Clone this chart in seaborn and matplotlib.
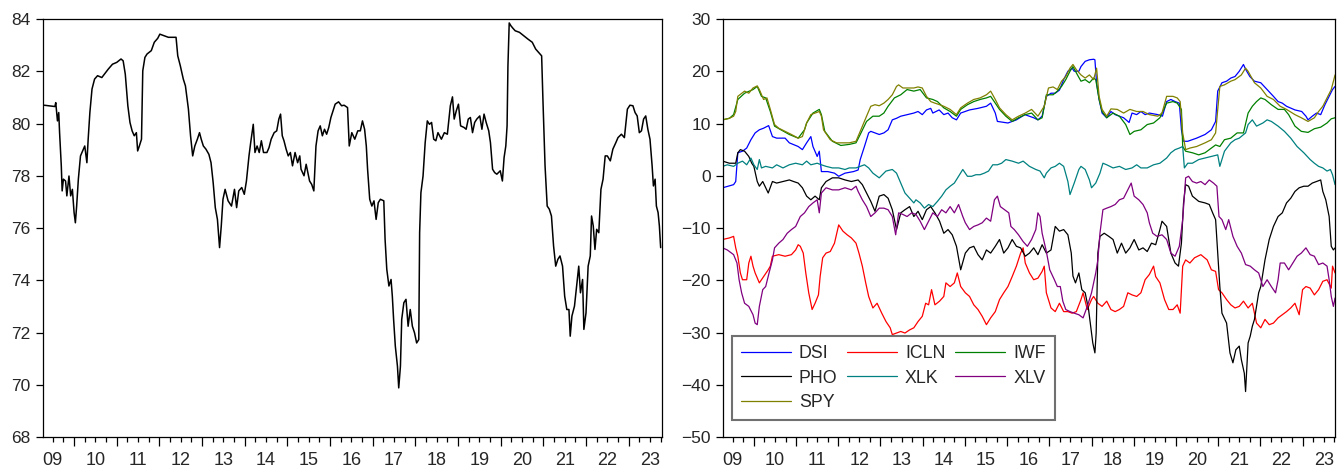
import numpy as np
import pandas as pd
import seaborn as sns
import matplotlib.pyplot as plt
from matplotlib.ticker import NullFormatter

#----------------------------------
# Data (decimal years)
#----------------------------------

left_t = [2009.30, 2009.55, 2009.57, 2009.61, 2009.64, 2009.66, 2009.70, 2009.72, 2009.75, 2009.80,
          2009.83, 2009.88, 2009.92, 2009.96, 2010.00, 2010.03, 2010.06, 2010.10, 2010.15, 2010.20,
          2010.25, 2010.30, 2010.33, 2010.37, 2010.42, 2010.48, 2010.55, 2010.65, 2010.80, 2010.90,
          2011.00, 2011.10, 2011.15, 2011.20, 2011.26, 2011.31, 2011.36, 2011.41, 2011.46, 2011.49,
          2011.53, 2011.58, 2011.61, 2011.66, 2011.71, 2011.81, 2011.88, 2011.96, 2012.01, 2012.11,
          2012.21, 2012.39, 2012.43, 2012.49, 2012.56, 2012.61, 2012.68, 2012.73, 2012.78, 2012.83,
          2012.89, 2012.94, 2012.98, 2013.03, 2013.09, 2013.16, 2013.21, 2013.26, 2013.31, 2013.36,
          2013.41, 2013.45, 2013.49, 2013.54, 2013.61, 2013.69, 2013.76, 2013.81, 2013.86, 2013.93,
          2013.99, 2014.04, 2014.10, 2014.14, 2014.20, 2014.24, 2014.29, 2014.34, 2014.39, 2014.44,
          2014.52, 2014.57, 2014.62, 2014.69, 2014.75, 2014.80, 2014.84, 2014.88, 2014.92, 2014.97,
          2015.02, 2015.07, 2015.12, 2015.18, 2015.24, 2015.29, 2015.32, 2015.39, 2015.44, 2015.52,
          2015.57, 2015.62, 2015.67, 2015.72, 2015.77, 2015.82, 2015.87, 2015.92, 2015.97, 2016.02,
          2016.07, 2016.12, 2016.20, 2016.27, 2016.33, 2016.41, 2016.45, 2016.51, 2016.58, 2016.65,
          2016.71, 2016.76, 2016.81, 2016.85, 2016.88, 2016.93, 2016.98, 2017.03, 2017.08, 2017.13,
          2017.18, 2017.26, 2017.29, 2017.33, 2017.38, 2017.43, 2017.46, 2017.49, 2017.53, 2017.58,
          2017.61, 2017.65, 2017.68, 2017.73, 2017.78, 2017.83, 2017.88, 2017.93, 2017.98, 2018.03,
          2018.08, 2018.10, 2018.13, 2018.18, 2018.23, 2018.28, 2018.33, 2018.38, 2018.43, 2018.48,
          2018.53, 2018.61, 2018.68, 2018.75, 2018.82, 2018.87, 2018.91, 2018.96, 2019.01, 2019.06,
          2019.14, 2019.19, 2019.24, 2019.29, 2019.34, 2019.39, 2019.44, 2019.51, 2019.56, 2019.61,
          2019.66, 2019.72, 2019.76, 2019.81, 2019.86, 2019.91, 2019.99, 2020.04, 2020.08, 2020.12,
          2020.15, 2020.17, 2020.20, 2020.24, 2020.29, 2020.34, 2020.44, 2020.54, 2020.64, 2020.74,
          2020.82, 2020.89, 2020.96, 2020.99, 2021.04, 2021.09, 2021.14, 2021.19, 2021.24, 2021.29,
          2021.34, 2021.39, 2021.45, 2021.50, 2021.55, 2021.60, 2021.63, 2021.67, 2021.73, 2021.78,
          2021.83, 2021.87, 2021.92, 2021.95, 2022.00, 2022.05, 2022.10, 2022.13, 2022.17, 2022.21,
          2022.25, 2022.30, 2022.35, 2022.40, 2022.45, 2022.50, 2022.57, 2022.63, 2022.70, 2022.75,
          2022.83, 2022.90, 2022.97, 2023.03, 2023.10, 2023.15, 2023.20, 2023.25, 2023.30, 2023.35,
          2023.40, 2023.45, 2023.50, 2023.55, 2023.58, 2023.62, 2023.65, 2023.69, 2023.72, 2023.75]
left_v = [80.70, 80.65, 80.80, 80.10, 80.42, 79.65, 78.38, 77.42, 77.87, 77.80,
          77.23, 77.99, 77.23, 77.48, 76.59, 76.20, 76.84, 77.87, 78.76, 78.95,
          79.14, 78.50, 79.40, 80.42, 81.32, 81.70, 81.83, 81.76, 82.08, 82.27,
          82.34, 82.47, 82.40, 81.89, 80.68, 80.04, 79.72, 79.53, 79.65, 78.95,
          79.14, 79.40, 82.02, 82.53, 82.66, 82.79, 83.11, 83.26, 83.42, 83.36,
          83.30, 83.30, 82.59, 82.21, 81.70, 81.44, 80.55, 79.53, 78.76, 79.14,
          79.40, 79.65, 79.40, 79.14, 79.02, 78.82, 78.50, 77.74, 76.78, 76.33,
          75.25, 76.08, 77.10, 77.48, 77.04, 76.84, 77.48, 76.78, 77.42, 77.55,
          77.29, 77.80, 78.76, 79.27, 79.97, 78.89, 79.14, 78.89, 79.34, 78.89,
          78.89, 79.08, 79.40, 79.65, 79.72, 80.17, 80.36, 79.53, 79.34, 79.02,
          78.76, 78.89, 78.38, 78.89, 78.50, 78.76, 78.25, 78.00, 78.44, 77.80,
          77.67, 77.42, 79.14, 79.72, 79.91, 79.53, 79.78, 79.59, 79.85, 80.23,
          80.49, 80.74, 80.83, 80.68, 80.70, 80.61, 79.14, 79.65, 79.40, 79.72,
          79.72, 80.10, 79.78, 79.14, 78.25, 77.10, 76.84, 77.04, 76.33, 76.97,
          77.10, 77.04, 75.57, 74.42, 73.78, 74.03, 73.39, 72.50, 71.48, 70.71,
          69.88, 70.71, 72.50, 73.14, 73.27, 72.24, 72.88, 72.24, 71.99, 71.60,
          71.73, 75.82, 77.35, 77.99, 79.27, 80.10, 79.97, 80.04, 79.40, 79.34,
          79.65, 79.40, 79.65, 79.59, 80.68, 81.02, 80.17, 80.49, 80.74, 79.91,
          79.85, 79.78, 80.17, 80.23, 79.65, 80.04, 80.17, 80.29, 79.78, 80.36,
          80.04, 79.72, 79.27, 78.25, 78.12, 78.06, 78.19, 77.80, 78.70, 79.14,
          79.91, 82.21, 83.85, 83.74, 83.64, 83.55, 83.49, 83.36, 83.23, 83.11,
          82.85, 82.72, 82.59, 80.93, 78.38, 76.84, 76.72, 76.46, 75.31, 74.54,
          74.80, 74.93, 74.54, 73.39, 72.88, 72.88, 71.86, 72.63, 73.01, 73.78,
          74.54, 73.52, 74.03, 72.12, 72.75, 74.54, 74.93, 76.46, 76.08, 75.18,
          75.95, 75.82, 77.48, 77.87, 78.76, 78.76, 78.57, 79.02, 79.27, 79.46,
          79.59, 79.46, 80.55, 80.70, 80.68, 80.42, 80.29, 79.65, 79.72, 80.17,
          80.29, 79.78, 79.40, 78.38, 77.61, 77.87, 76.84, 76.59, 76.08, 75.25]

dsi_t = [2009.26, 2009.52, 2009.57, 2009.62, 2009.73, 2009.83, 2009.93, 2010.03, 2010.13, 2010.23,
         2010.35, 2010.44, 2010.54, 2010.74, 2010.84, 2011.05, 2011.15, 2011.25, 2011.35, 2011.40,
         2011.50, 2011.55, 2011.60, 2011.75, 2011.91, 2012.01, 2012.16, 2012.36, 2012.47, 2012.52,
         2012.62, 2012.72, 2012.77, 2012.87, 2012.97, 2013.08, 2013.18, 2013.28, 2013.38, 2013.48,
         2013.64, 2013.79, 2013.89, 2013.99, 2014.09, 2014.19, 2014.24, 2014.39, 2014.50, 2014.60,
         2014.70, 2014.80, 2014.90, 2015.11, 2015.31, 2015.51, 2015.61, 2015.72, 2015.77, 2016.02,
         2016.22, 2016.42, 2016.63, 2016.73, 2016.83, 2016.93, 2017.04, 2017.14, 2017.24, 2017.34,
         2017.44, 2017.54, 2017.59, 2017.70, 2017.75, 2017.85, 2017.95, 2018.05, 2018.08, 2018.12,
         2018.18, 2018.25, 2018.36, 2018.46, 2018.56, 2018.66, 2018.76, 2018.89, 2018.96, 2019.07,
         2019.17, 2019.27, 2019.37, 2019.57, 2019.68, 2019.78, 2019.88, 2019.98, 2020.08, 2020.13,
         2020.18, 2020.28, 2020.49, 2020.69, 2020.84, 2020.94, 2020.99, 2021.09, 2021.20, 2021.30,
         2021.40, 2021.50, 2021.60, 2021.65, 2021.75, 2021.86, 2022.01, 2022.16, 2022.31, 2022.42,
         2022.52, 2022.62, 2022.82, 2022.98, 2023.08, 2023.13, 2023.23, 2023.33, 2023.43, 2023.53,
         2023.63, 2023.71, 2023.77]
dsi_v = [-2.3, -1.7, -1.1, 4.4, 4.7, 5.3, 6.9, 8.2, 8.8, 9.1,
         9.6, 7.5, 7.2, 7.2, 6.3, 5.6, 5.0, 6.3, 7.5, 5.6,
         3.7, 4.7, 0.8, 0.8, 0.5, -0.1, 0.5, 0.8, 1.1, 3.1,
         5.6, 8.2, 8.5, 8.2, 7.9, 8.2, 8.8, 10.7, 11.0, 11.4,
         11.7, 12.0, 12.3, 11.7, 12.6, 12.9, 12.0, 12.6, 11.7, 12.0,
         11.1, 10.7, 12.0, 12.6, 12.9, 13.3, 13.9, 12.0, 10.4, 10.1,
         10.7, 11.7, 11.1, 10.7, 11.4, 15.2, 15.8, 15.8, 16.4, 18.4,
         20.0, 20.6, 20.0, 20.0, 20.9, 21.9, 22.2, 22.3, 22.2, 17.8,
         14.6, 12.0, 11.1, 12.3, 11.7, 11.4, 11.1, 10.2, 12.0, 11.7,
         12.3, 11.7, 12.0, 11.7, 11.4, 14.2, 14.6, 14.2, 13.9, 8.8,
         6.6, 6.6, 7.2, 7.9, 8.8, 10.4, 16.2, 17.8, 18.1, 18.7,
         19.0, 20.0, 21.3, 20.4, 19.0, 18.1, 17.8, 16.5, 15.2, 14.2,
         13.9, 13.3, 12.6, 12.3, 11.4, 10.7, 11.4, 12.0, 11.7, 13.6,
         15.2, 16.5, 17.1]

icln_t = [2009.26, 2009.42, 2009.52, 2009.57, 2009.62, 2009.68, 2009.73, 2009.83, 2009.88, 2009.93,
          2009.98, 2010.03, 2010.13, 2010.23, 2010.34, 2010.39, 2010.44, 2010.59, 2010.74, 2010.89,
          2010.99, 2011.05, 2011.10, 2011.17, 2011.23, 2011.30, 2011.38, 2011.45, 2011.53, 2011.57,
          2011.63, 2011.71, 2011.81, 2011.91, 2012.01, 2012.11, 2012.21, 2012.31, 2012.42, 2012.49,
          2012.57, 2012.65, 2012.72, 2012.82, 2012.92, 2013.03, 2013.13, 2013.23, 2013.28, 2013.38,
          2013.48, 2013.58, 2013.69, 2013.79, 2013.89, 2013.99, 2014.07, 2014.14, 2014.21, 2014.29,
          2014.40, 2014.50, 2014.55, 2014.65, 2014.75, 2014.82, 2014.90, 2015.01, 2015.11, 2015.21,
          2015.31, 2015.41, 2015.51, 2015.61, 2015.72, 2015.82, 2015.92, 2016.02, 2016.12, 2016.22,
          2016.32, 2016.38, 2016.43, 2016.53, 2016.63, 2016.73, 2016.83, 2016.88, 2016.93, 2017.04,
          2017.14, 2017.24, 2017.34, 2017.44, 2017.54, 2017.64, 2017.75, 2017.80, 2017.90, 2018.00,
          2018.05, 2018.15, 2018.25, 2018.36, 2018.46, 2018.56, 2018.66, 2018.76, 2018.86, 2018.96,
          2019.07, 2019.17, 2019.27, 2019.37, 2019.47, 2019.52, 2019.62, 2019.73, 2019.83, 2019.93,
          2020.03, 2020.10, 2020.16, 2020.23, 2020.33, 2020.44, 2020.59, 2020.74, 2020.84, 2020.94,
          2021.01, 2021.09, 2021.20, 2021.30, 2021.40, 2021.50, 2021.60, 2021.71, 2021.81, 2021.91,
          2022.01, 2022.11, 2022.21, 2022.31, 2022.42, 2022.52, 2022.62, 2022.72, 2022.82, 2022.92,
          2023.00, 2023.08, 2023.18, 2023.28, 2023.38, 2023.48, 2023.58, 2023.68, 2023.71, 2023.77]
icln_v = [-12.2, -11.9, -11.6, -13.8, -15.4, -18.6, -19.9, -19.9, -16.7, -15.4,
          -17.3, -18.6, -20.5, -19.3, -18.0, -17.3, -15.4, -15.1, -15.4, -15.1,
          -14.2, -13.2, -13.5, -14.8, -18.6, -22.4, -25.6, -24.4, -22.8, -19.3,
          -15.7, -14.8, -14.5, -12.9, -9.4, -10.6, -11.3, -11.9, -12.9, -14.8,
          -17.3, -20.5, -23.1, -25.3, -24.4, -26.3, -27.9, -29.1, -30.4, -30.1,
          -29.8, -30.1, -29.5, -29.1, -27.9, -26.9, -24.4, -24.7, -21.8, -24.7,
          -24.0, -23.1, -20.5, -21.2, -20.5, -18.6, -21.2, -22.4, -23.1, -24.7,
          -25.6, -26.9, -28.5, -27.2, -26.0, -23.7, -22.4, -21.2, -19.3, -17.3,
          -14.8, -13.8, -16.7, -18.6, -19.9, -19.6, -18.3, -17.3, -22.4, -25.3,
          -26.0, -24.4, -26.0, -26.0, -26.3, -26.0, -23.7, -22.4, -25.6, -23.7,
          -23.1, -24.4, -25.0, -24.0, -25.6, -26.0, -25.6, -25.0, -22.4, -22.8,
          -23.1, -22.4, -19.9, -18.9, -17.3, -19.3, -20.5, -23.7, -25.6, -25.6,
          -24.7, -26.3, -17.3, -16.1, -16.7, -15.7, -15.1, -16.1, -18.0, -18.3,
          -21.8, -22.4, -23.7, -24.7, -25.3, -25.0, -24.0, -25.3, -24.4, -28.2,
          -29.1, -27.5, -28.5, -28.2, -27.2, -26.6, -26.0, -25.3, -24.4, -26.6,
          -21.8, -21.2, -21.5, -22.8, -21.8, -20.2, -19.9, -21.5, -17.3, -18.6]

iwf_t = [2009.26, 2009.42, 2009.52, 2009.62, 2009.78, 2009.98, 2010.08, 2010.18, 2010.28, 2010.39,
         2010.49, 2010.64, 2010.84, 2011.05, 2011.20, 2011.25, 2011.40, 2011.55, 2011.60, 2011.68,
         2011.86, 2012.06, 2012.26, 2012.42, 2012.52, 2012.67, 2012.82, 2012.97, 2013.08, 2013.18,
         2013.33, 2013.48, 2013.63, 2013.79, 2013.94, 2014.09, 2014.24, 2014.35, 2014.50, 2014.65,
         2014.80, 2014.90, 2015.06, 2015.21, 2015.36, 2015.51, 2015.61, 2015.72, 2015.82, 2015.97,
         2016.12, 2016.27, 2016.43, 2016.58, 2016.73, 2016.83, 2016.93, 2017.09, 2017.19, 2017.29,
         2017.39, 2017.49, 2017.56, 2017.64, 2017.75, 2017.85, 2017.95, 2018.05, 2018.10, 2018.18,
         2018.25, 2018.36, 2018.51, 2018.66, 2018.81, 2018.91, 2019.01, 2019.17, 2019.32, 2019.47,
         2019.62, 2019.78, 2019.93, 2020.03, 2020.13, 2020.16, 2020.23, 2020.39, 2020.54, 2020.69,
         2020.84, 2020.94, 2021.04, 2021.15, 2021.30, 2021.45, 2021.60, 2021.71, 2021.81, 2021.91,
         2022.01, 2022.11, 2022.26, 2022.42, 2022.57, 2022.67, 2022.82, 2022.97, 2023.13, 2023.28,
         2023.43, 2023.58, 2023.68, 2023.77]
iwf_v = [10.7, 11.0, 11.7, 14.6, 15.8, 16.5, 17.1, 15.2, 14.9, 12.3,
         9.5, 8.8, 7.9, 7.2, 8.8, 10.1, 12.0, 12.7, 11.7, 8.5,
         6.6, 5.8, 6.0, 6.3, 7.9, 10.4, 11.4, 11.4, 12.0, 13.3,
         14.9, 15.5, 16.5, 16.2, 16.5, 14.9, 14.6, 14.2, 13.0, 12.3,
         11.4, 12.7, 13.6, 14.2, 14.6, 14.9, 15.2, 13.9, 12.7, 11.4,
         10.4, 11.1, 11.7, 12.0, 10.7, 11.1, 15.5, 15.5, 16.2, 17.1,
         18.4, 20.0, 20.9, 19.7, 18.1, 18.4, 17.8, 18.7, 18.4, 14.6,
         12.3, 11.1, 12.0, 11.4, 9.8, 7.9, 8.5, 8.8, 9.8, 10.1,
         11.1, 13.9, 14.2, 13.9, 12.7, 5.6, 4.7, 4.4, 4.0, 4.4,
         5.3, 5.9, 5.6, 6.9, 7.2, 8.2, 8.2, 12.0, 13.3, 14.2,
         14.9, 14.6, 13.6, 12.7, 12.7, 11.7, 9.5, 8.5, 8.3, 9.0,
         9.3, 10.1, 10.9, 11.1]

pho_t = [2009.26, 2009.42, 2009.57, 2009.62, 2009.68, 2009.78, 2009.88, 2009.95, 2010.00, 2010.08,
         2010.13, 2010.21, 2010.34, 2010.44, 2010.54, 2010.69, 2010.84, 2010.94, 2011.05, 2011.15,
         2011.25, 2011.35, 2011.45, 2011.55, 2011.60, 2011.71, 2011.86, 2012.01, 2012.16, 2012.31,
         2012.47, 2012.57, 2012.67, 2012.77, 2012.87, 2012.97, 2013.08, 2013.18, 2013.28, 2013.38,
         2013.48, 2013.58, 2013.69, 2013.79, 2013.89, 2013.99, 2014.09, 2014.19, 2014.29, 2014.40,
         2014.50, 2014.60, 2014.70, 2014.80, 2014.90, 2015.01, 2015.11, 2015.21, 2015.31, 2015.41,
         2015.51, 2015.61, 2015.72, 2015.82, 2015.92, 2016.02, 2016.12, 2016.22, 2016.32, 2016.43,
         2016.53, 2016.63, 2016.73, 2016.83, 2016.93, 2017.04, 2017.14, 2017.24, 2017.34, 2017.44,
         2017.52, 2017.56, 2017.62, 2017.70, 2017.77, 2017.85, 2017.93, 2017.98, 2018.03, 2018.08,
         2018.11, 2018.15, 2018.20, 2018.30, 2018.41, 2018.51, 2018.61, 2018.71, 2018.81, 2018.91,
         2019.01, 2019.12, 2019.22, 2019.32, 2019.42, 2019.52, 2019.62, 2019.67, 2019.78, 2019.88,
         2019.98, 2020.06, 2020.13, 2020.18, 2020.23, 2020.30, 2020.39, 2020.54, 2020.69, 2020.79,
         2020.87, 2020.94, 2020.99, 2021.04, 2021.09, 2021.20, 2021.28, 2021.35, 2021.42, 2021.50,
         2021.55, 2021.62, 2021.65, 2021.71, 2021.76, 2021.81, 2021.86, 2021.91, 2021.96, 2022.01,
         2022.11, 2022.21, 2022.31, 2022.42, 2022.52, 2022.62, 2022.72, 2022.82, 2022.92, 2023.03,
         2023.13, 2023.23, 2023.33, 2023.43, 2023.48, 2023.55, 2023.63, 2023.68, 2023.73, 2023.77]
pho_v = [2.8, 2.4, 2.4, 4.4, 5.0, 4.7, 3.7, 2.4, 1.8, -1.1,
         -2.0, -1.1, -3.3, -1.1, -1.4, -1.1, -0.8, -1.1, -1.4, -2.3,
         -3.9, -4.6, -3.9, -4.6, -2.3, -1.1, -0.4, -0.4, -0.8, -1.1,
         -0.8, -1.7, -3.3, -4.9, -6.8, -3.9, -3.6, -4.3, -6.5, -10.3,
         -7.1, -6.5, -5.9, -7.8, -6.8, -8.4, -6.5, -5.9, -7.1, -8.7,
         -11.0, -10.3, -11.3, -13.5, -18.0, -14.8, -13.8, -13.5, -15.1, -16.1,
         -14.2, -14.8, -13.5, -12.2, -14.8, -13.8, -12.2, -13.5, -13.8, -15.4,
         -14.8, -13.8, -15.1, -13.2, -14.8, -14.2, -9.7, -10.6, -10.3, -11.3,
         -14.8, -19.2, -20.5, -18.6, -21.8, -22.4, -25.6, -28.8, -32.0, -33.9,
         -30.1, -14.8, -11.6, -11.0, -11.6, -12.2, -14.8, -12.9, -14.8, -13.8,
         -12.2, -14.2, -13.8, -14.5, -12.9, -13.2, -10.3, -8.7, -9.7, -14.8,
         -16.7, -17.3, -12.9, -5.2, -1.7, -2.0, -3.9, -4.9, -5.2, -5.5,
         -7.1, -8.4, -14.8, -21.2, -26.3, -28.2, -33.9, -35.8, -33.3, -32.6,
         -35.2, -37.8, -41.3, -32.0, -30.7, -28.8, -27.5, -25.0, -22.4, -21.2,
         -16.1, -12.2, -9.7, -7.8, -7.1, -5.2, -4.3, -3.0, -2.3, -2.0,
         -2.0, -1.4, -1.1, -0.8, -3.0, -4.6, -7.8, -13.5, -14.2, -13.8]

xlk_t = [2009.26, 2009.37, 2009.52, 2009.62, 2009.73, 2009.83, 2009.93, 2010.00, 2010.08, 2010.13,
         2010.18, 2010.28, 2010.44, 2010.54, 2010.69, 2010.84, 2010.99, 2011.15, 2011.25, 2011.35,
         2011.50, 2011.60, 2011.71, 2011.86, 2012.01, 2012.16, 2012.26, 2012.42, 2012.52, 2012.62,
         2012.72, 2012.82, 2012.97, 2013.13, 2013.28, 2013.38, 2013.48, 2013.58, 2013.69, 2013.79,
         2013.84, 2013.94, 2014.04, 2014.14, 2014.24, 2014.35, 2014.45, 2014.55, 2014.65, 2014.75,
         2014.85, 2014.95, 2015.06, 2015.16, 2015.26, 2015.36, 2015.46, 2015.56, 2015.66, 2015.77,
         2015.87, 2015.97, 2016.12, 2016.27, 2016.38, 2016.53, 2016.68, 2016.78, 2016.88, 2016.93,
         2017.04, 2017.14, 2017.24, 2017.34, 2017.44, 2017.49, 2017.59, 2017.70, 2017.75, 2017.85,
         2017.95, 2018.00, 2018.10, 2018.20, 2018.27, 2018.36, 2018.51, 2018.66, 2018.81, 2018.96,
         2019.07, 2019.17, 2019.32, 2019.47, 2019.62, 2019.78, 2019.88, 2019.98, 2020.08, 2020.16,
         2020.20, 2020.28, 2020.39, 2020.54, 2020.69, 2020.84, 2020.99, 2021.04, 2021.15, 2021.30,
         2021.40, 2021.50, 2021.65, 2021.71, 2021.81, 2021.91, 2022.06, 2022.16, 2022.26, 2022.42,
         2022.57, 2022.72, 2022.87, 2023.03, 2023.18, 2023.28, 2023.38, 2023.48, 2023.58, 2023.66,
         2023.71, 2023.77]
xlk_v = [1.8, 2.1, 1.8, 2.4, 2.8, 2.1, 3.4, 2.1, 1.2, 3.1,
         1.5, 1.8, 1.5, 2.1, 1.5, 2.1, 2.4, 2.1, 2.8, 2.1,
         2.4, 2.1, 1.8, 1.5, 1.5, 1.2, 1.5, 1.5, 1.8, 2.1,
         1.5, 0.5, -0.4, 0.9, 1.2, 0.5, -1.4, -3.3, -4.3, -5.2,
         -4.6, -5.2, -6.2, -5.5, -5.9, -4.9, -3.9, -2.7, -2.0, -1.4,
         -0.1, 1.2, -0.1, -0.1, 0.2, 0.2, 0.5, 0.9, 2.1, 2.1,
         2.4, 3.1, 2.8, 2.4, 2.8, 1.8, 1.2, 0.9, -0.4, 0.5,
         1.5, 1.8, 2.4, 1.8, -1.1, -3.6, -1.4, 1.2, 1.8, 1.2,
         -0.8, -2.3, -1.4, 0.5, 2.4, 2.1, 1.5, 1.8, 1.2, 1.5,
         2.1, 1.5, 1.5, 2.1, 2.4, 3.4, 4.4, 5.0, 5.3, 5.6,
         1.5, 2.4, 2.4, 3.1, 3.4, 3.7, 4.0, 1.8, 4.7, 6.3,
         6.9, 7.2, 8.2, 9.8, 10.7, 9.5, 10.1, 10.7, 10.4, 9.5,
         8.5, 7.2, 5.6, 4.4, 3.1, 2.4, 1.8, 1.5, 0.9, 1.2,
         0.2, -1.7]

xlv_t = [2009.26, 2009.37, 2009.52, 2009.60, 2009.65, 2009.71, 2009.78, 2009.88, 2009.98, 2010.03,
         2010.08, 2010.13, 2010.21, 2010.28, 2010.36, 2010.44, 2010.49, 2010.59, 2010.69, 2010.79,
         2010.89, 2010.99, 2011.10, 2011.20, 2011.30, 2011.40, 2011.50, 2011.55, 2011.60, 2011.71,
         2011.86, 2012.01, 2012.16, 2012.31, 2012.42, 2012.47, 2012.57, 2012.67, 2012.77, 2012.87,
         2012.97, 2013.08, 2013.18, 2013.28, 2013.36, 2013.43, 2013.53, 2013.63, 2013.74, 2013.84,
         2013.94, 2014.04, 2014.14, 2014.24, 2014.35, 2014.45, 2014.55, 2014.65, 2014.75, 2014.85,
         2014.95, 2015.01, 2015.11, 2015.21, 2015.31, 2015.41, 2015.51, 2015.61, 2015.70, 2015.77,
         2015.84, 2015.94, 2016.04, 2016.09, 2016.17, 2016.27, 2016.38, 2016.48, 2016.58, 2016.68,
         2016.73, 2016.78, 2016.83, 2016.93, 2017.01, 2017.12, 2017.19, 2017.26, 2017.32, 2017.39,
         2017.49, 2017.59, 2017.70, 2017.80, 2017.90, 2018.00, 2018.05, 2018.10, 2018.15, 2018.20,
         2018.27, 2018.36, 2018.46, 2018.56, 2018.66, 2018.76, 2018.86, 2018.94, 2019.01, 2019.12,
         2019.22, 2019.32, 2019.37, 2019.45, 2019.55, 2019.67, 2019.78, 2019.88, 2019.98, 2020.08,
         2020.16, 2020.23, 2020.30, 2020.39, 2020.49, 2020.59, 2020.69, 2020.79, 2020.89, 2020.97,
         2021.02, 2021.09, 2021.18, 2021.25, 2021.35, 2021.45, 2021.55, 2021.65, 2021.76, 2021.86,
         2021.96, 2022.06, 2022.16, 2022.26, 2022.36, 2022.42, 2022.47, 2022.57, 2022.67, 2022.77,
         2022.87, 2022.97, 2023.08, 2023.18, 2023.28, 2023.38, 2023.48, 2023.58, 2023.63, 2023.68,
         2023.73, 2023.77]
xlv_v = [-13.8, -14.2, -15.1, -16.7, -19.9, -22.4, -24.4, -25.0, -26.6, -28.2,
         -28.5, -25.0, -21.8, -21.2, -18.6, -16.1, -13.8, -12.9, -12.2, -11.0,
         -10.3, -9.7, -7.8, -7.1, -5.9, -5.2, -4.6, -7.1, -3.3, -2.3,
         -2.7, -2.7, -2.3, -2.7, -2.0, -3.0, -4.6, -5.9, -7.8, -7.1,
         -6.2, -6.2, -6.5, -7.8, -11.3, -7.1, -7.4, -7.8, -7.1, -7.4,
         -8.7, -10.3, -8.7, -7.1, -7.8, -6.5, -7.1, -5.9, -7.1, -5.5,
         -7.8, -9.0, -10.3, -9.7, -9.4, -9.0, -8.1, -8.7, -4.6, -3.9,
         -5.9, -6.5, -7.1, -9.7, -10.3, -11.3, -12.6, -13.5, -12.2, -10.3,
         -7.1, -7.8, -11.0, -14.5, -18.0, -19.9, -21.2, -21.2, -24.0, -25.6,
         -26.0, -26.3, -26.6, -27.2, -25.0, -22.4, -20.5, -18.6, -16.1, -11.0,
         -6.5, -6.2, -5.9, -5.5, -4.6, -4.3, -2.7, -1.4, -3.9, -4.6,
         -5.5, -7.1, -9.0, -11.0, -11.6, -11.3, -12.2, -14.8, -15.4, -13.5,
         -8.4, -0.4, -0.1, -1.1, -1.4, -1.1, -1.7, -0.8, -1.4, -2.0,
         -7.8, -8.4, -10.3, -8.4, -11.6, -13.5, -14.8, -17.0, -17.3, -18.0,
         -18.6, -21.2, -19.9, -21.2, -22.4, -19.9, -16.7, -16.7, -18.0, -16.7,
         -15.4, -14.8, -13.8, -15.1, -15.4, -17.0, -16.7, -17.3, -19.9, -23.1,
         -25.0, -23.4]

spy_t = [2009.26, 2009.42, 2009.52, 2009.57, 2009.62, 2009.78, 2009.88, 2009.98, 2010.08, 2010.13,
         2010.23, 2010.31, 2010.39, 2010.49, 2010.59, 2010.74, 2010.89, 2011.05, 2011.15, 2011.25,
         2011.35, 2011.45, 2011.55, 2011.60, 2011.65, 2011.81, 2011.96, 2012.11, 2012.26, 2012.42,
         2012.52, 2012.67, 2012.77, 2012.87, 2012.97, 2013.08, 2013.18, 2013.28, 2013.38, 2013.43,
         2013.53, 2013.63, 2013.79, 2013.89, 2013.99, 2014.09, 2014.19, 2014.29, 2014.40, 2014.50,
         2014.65, 2014.80, 2014.90, 2015.06, 2015.21, 2015.36, 2015.51, 2015.61, 2015.72, 2015.82,
         2015.97, 2016.12, 2016.27, 2016.43, 2016.58, 2016.73, 2016.88, 2016.98, 2017.09, 2017.19,
         2017.29, 2017.39, 2017.49, 2017.56, 2017.64, 2017.75, 2017.85, 2017.95, 2018.05, 2018.12,
         2018.18, 2018.25, 2018.36, 2018.46, 2018.61, 2018.76, 2018.91, 2019.07, 2019.22, 2019.37,
         2019.57, 2019.67, 2019.78, 2019.93, 2020.03, 2020.10, 2020.16, 2020.23, 2020.33, 2020.49,
         2020.69, 2020.84, 2020.94, 2021.04, 2021.15, 2021.30, 2021.40, 2021.55, 2021.65, 2021.71,
         2021.86, 2022.01, 2022.16, 2022.31, 2022.47, 2022.62, 2022.82, 2022.97, 2023.13, 2023.28,
         2023.38, 2023.48, 2023.58, 2023.68, 2023.77]
spy_v = [10.7, 11.0, 11.4, 12.3, 15.2, 16.2, 15.8, 16.8, 17.2, 16.5,
         14.6, 14.9, 12.7, 9.8, 9.1, 8.5, 7.9, 7.2, 7.5, 10.1,
         11.7, 12.0, 12.3, 11.4, 8.8, 6.9, 6.3, 6.3, 6.3, 6.6,
         8.5, 11.4, 13.3, 13.6, 13.4, 13.9, 14.6, 15.5, 17.1, 17.4,
         16.8, 16.8, 16.8, 17.0, 16.8, 15.2, 14.2, 13.9, 13.6, 13.3,
         12.7, 11.7, 13.0, 13.9, 14.6, 14.9, 15.5, 16.2, 14.6, 13.0,
         11.7, 10.7, 11.4, 12.0, 12.7, 11.4, 13.3, 16.8, 17.0, 16.5,
         18.1, 19.0, 20.6, 21.3, 20.3, 19.3, 18.7, 19.3, 18.4, 20.6,
         15.2, 12.7, 11.4, 12.8, 12.7, 12.0, 12.7, 12.3, 12.3, 11.7,
         11.4, 12.0, 15.2, 15.2, 14.9, 14.2, 8.2, 5.0, 5.3, 5.6,
         6.3, 6.9, 8.2, 17.1, 17.4, 18.1, 18.4, 19.3, 20.6, 20.0,
         17.8, 16.8, 15.2, 14.6, 13.3, 12.7, 11.7, 11.1, 10.4, 11.1,
         12.3, 13.3, 14.9, 16.5, 19.3]

series_order = ["DSI", "ICLN", "IWF", "PHO", "XLK", "XLV", "SPY"]
legend_order = ["DSI", "PHO", "SPY", "ICLN", "XLK", "IWF", "XLV"]
colors = {"DSI": "#0000FF", "ICLN": "#FF0000", "IWF": "#008000", "PHO": "#000000",
          "XLK": "#008080", "XLV": "#800080", "SPY": "#808000"}

frames = []
for name, t, v in [("DSI", dsi_t, dsi_v), ("ICLN", icln_t, icln_v), ("IWF", iwf_t, iwf_v),
                   ("PHO", pho_t, pho_v), ("XLK", xlk_t, xlk_v), ("XLV", xlv_t, xlv_v),
                   ("SPY", spy_t, spy_v)]:
    frames.append(pd.DataFrame({"year": t, "value": v, "series": name}))
right_df = pd.concat(frames, ignore_index=True)
left_df = pd.DataFrame({"year": left_t, "value": left_v})

#-----------
# Plot
#-----------

sns.set_theme(style="white")
plt.rcParams["font.family"] = ["Liberation Sans", "DejaVu Sans"]

fig = plt.figure(figsize=(13.38, 4.73), dpi=100)
ax1 = fig.add_axes([0.0321, 0.0761, 0.4623, 0.8837])
ax2 = fig.add_axes([0.5404, 0.0761, 0.4574, 0.8837])

sns.lineplot(data=left_df, x="year", y="value", color="black", linewidth=1.1,
             estimator=None, sort=False, ax=ax1)

sns.lineplot(data=right_df, x="year", y="value", hue="series", hue_order=series_order,
             palette=colors, linewidth=0.9, estimator=None, sort=False, legend=False, ax=ax2)

x0, x1 = 2009.27, 2023.77
years = np.arange(2009, 2024)


def style_axis(ax, ylo, yhi, ystep):
    ax.set_xlim(x0, x1)
    ax.set_ylim(ylo, yhi)
    ax.set_yticks(np.arange(ylo, yhi + 1, ystep))
    ax.set_xticks(np.arange(2010, 2024))
    quarters = [y + q for y in years for q in (0.25, 0.5, 0.75)]
    ax.set_xticks([q for q in quarters if x0 <= q <= x1], minor=True)
    ax.xaxis.set_major_formatter(NullFormatter())
    ax.tick_params(axis="x", which="major", length=6.5, width=0.9, color="black", direction="out", bottom=True)
    ax.tick_params(axis="x", which="minor", length=3.5, width=0.9, color="black", direction="out", bottom=True)
    ax.tick_params(axis="y", length=5, width=0.9, color="black", pad=4, labelsize=12.5, left=True)
    ax.set_xlabel("")
    ax.set_ylabel("")
    for s in ax.spines.values():
        s.set_visible(True)
        s.set_color("black")
        s.set_linewidth(0.9)
    sec = ax.secondary_xaxis("bottom")
    sec.set_xticks(years + 0.5, labels=[f"{y % 100:02d}" for y in years])
    sec.tick_params(length=0, pad=11, labelsize=13)
    sec.spines["bottom"].set_visible(False)


style_axis(ax1, 68, 84, 2)
style_axis(ax2, -50, 30, 10)

handles = {name: line for name, line in zip(series_order, ax2.get_lines())}
leg = ax2.legend([handles[n] for n in legend_order], legend_order, ncol=3,
                 loc="lower left", bbox_to_anchor=(0.015, 0.041), borderaxespad=0,
                 fontsize=12.8, handlelength=2.8, handletextpad=0.45, columnspacing=0.55,
                 labelspacing=0.42, borderpad=0.5, frameon=True, fancybox=False)
leg.get_frame().set_edgecolor("#707070")
leg.get_frame().set_linewidth(1.5)
leg.get_frame().set_alpha(1)

plt.savefig("out.png", dpi=100)
